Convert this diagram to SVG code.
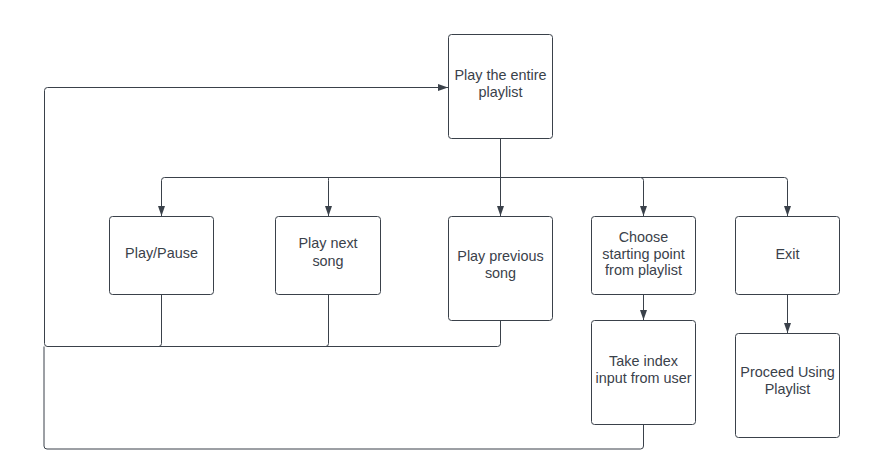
<svg xmlns="http://www.w3.org/2000/svg" width="894" height="476" viewBox="0 0 894 476">
<style>
.node rect{fill:#ffffff;stroke:#3a414a;stroke-width:1}
.node text{font-family:"Liberation Sans",Arial,sans-serif;font-size:14.4px;fill:#3a414a;text-anchor:middle}
.conn path{fill:none;stroke:#3a414a;stroke-width:1}
</style>
<defs>
<marker id="arr" viewBox="0 0 10 7" refX="10" refY="3.5" markerWidth="10" markerHeight="7" markerUnits="userSpaceOnUse" orient="auto">
<path d="M0,0 L10,3.5 L0,7 z" fill="#3a414a"/>
</marker>
</defs>
<rect width="894" height="476" fill="#ffffff"/>
<g id="connectors" class="conn">
<path d="M500.5,138 V216" marker-end="url(#arr)"/>
<path d="M500.5,177.5 H164.5 Q161.5,177.5 161.5,180.5 V216" marker-end="url(#arr)"/>
<path d="M328.5,177.5 Q328.5,177.5 328.5,180.5 V216" marker-end="url(#arr)"/>
<path d="M500.5,177.5 H640.5 Q643.5,177.5 643.5,180.5 V216" marker-end="url(#arr)"/>
<path d="M640.5,177.5 H784.5 Q787.5,177.5 787.5,180.5 V216" marker-end="url(#arr)"/>
<path d="M643.5,294 V320" marker-end="url(#arr)"/>
<path d="M787.5,294 V333" marker-end="url(#arr)"/>
<path d="M161.5,294 V343.5 Q161.5,346.5 158.5,346.5 H47.5 Q44.5,346.5 44.5,343.5 V90.5 Q44.5,87.5 47.5,87.5 H448" marker-end="url(#arr)"/>
<path d="M328.5,294 V343.5 Q328.5,346.5 325.5,346.5 H47.5"/>
<path d="M500.5,320 V343.5 Q500.5,346.5 497.5,346.5 H47.5"/>
<path d="M643.5,424 V446 Q643.5,449 640.5,449 H47 Q44,449 44,446 V346.5" stroke="#9a9ea3"/>
</g>
<g id="n_top" class="node">
<rect x="448.5" y="34.5" width="104" height="104" rx="3"/>
<text x="500.5" y="80">Play the entire</text>
<text x="500.5" y="97">playlist</text>
</g>
<g id="n_playpause" class="node">
<rect x="109.5" y="216.5" width="104" height="78" rx="3"/>
<text x="161.5" y="257.5">Play/Pause</text>
</g>
<g id="n_next" class="node">
<rect x="275.5" y="216.5" width="105" height="78" rx="3"/>
<text x="328" y="247.5">Play next</text>
<text x="328" y="265.5">song</text>
</g>
<g id="n_prev" class="node">
<rect x="448.5" y="216.5" width="104" height="104" rx="3"/>
<text x="500.5" y="260.5">Play previous</text>
<text x="500.5" y="277.5">song</text>
</g>
<g id="n_choose" class="node">
<rect x="591.5" y="216.5" width="104" height="78" rx="3"/>
<text x="643.5" y="242">Choose</text>
<text x="643.5" y="258.5">starting point</text>
<text x="643.5" y="275">from playlist</text>
</g>
<g id="n_exit" class="node">
<rect x="735.5" y="216.5" width="104" height="78" rx="3"/>
<text x="787.5" y="259">Exit</text>
</g>
<g id="n_take" class="node">
<rect x="591.5" y="320.5" width="104" height="104" rx="3"/>
<text x="643.5" y="366">Take index</text>
<text x="643.5" y="382.5">input from user</text>
</g>
<g id="n_proceed" class="node">
<rect x="735.5" y="333.5" width="104" height="104" rx="3"/>
<text x="787.5" y="377">Proceed Using</text>
<text x="787.5" y="394">Playlist</text>
</g>
</svg>
